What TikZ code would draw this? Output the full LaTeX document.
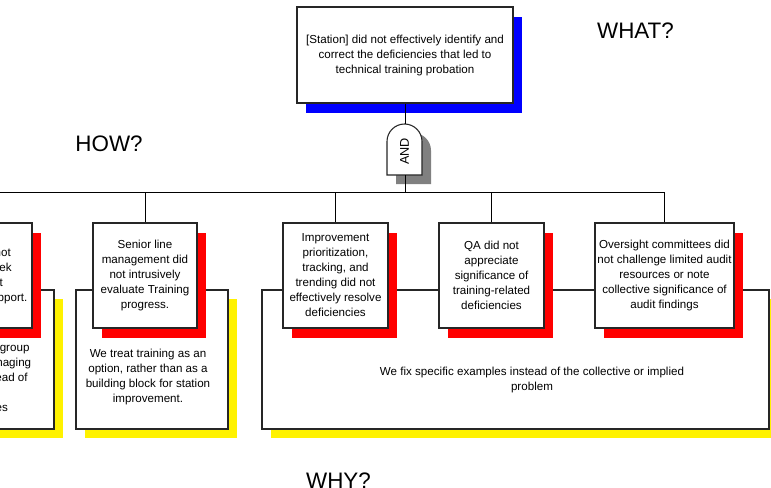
\documentclass[tikz,border=0pt]{standalone}
\usepackage{fontspec}
\setmainfont{Liberation Sans}
\usetikzlibrary{shadows}

\begin{document}
\begin{tikzpicture}[x=0.75pt,y=-0.75pt,
  txt/.style={font=\fontsize{8.7}{11.25}\selectfont, align=center, inner sep=0pt},
  howbox/.style={txt, draw=black!85, line width=0.8pt, fill=white, minimum height=78.75pt,
    drop shadow={shadow xshift=6.75pt, shadow yshift=-7.5pt, fill=red, opacity=1}},
  whybox/.style={draw=black!85, line width=0.8pt, fill=white, minimum height=104.25pt, inner sep=0pt,
    drop shadow={shadow xshift=6.75pt, shadow yshift=-6.75pt, fill=yellow, opacity=1}},
  bigword/.style={font=\fontsize{16.8}{18}\selectfont, inner sep=0pt}]
\useasboundingbox (0,0) rectangle (771,487);
\clip (0,0) rectangle (771,487);

% why level
\node[whybox, minimum width=114pt] (leftwhy) at (-22,359.5) {};
\node[whybox, minimum width=114pt] (seniorwhy) at (152,359.5) {};
\node[whybox, minimum width=380.25pt] (fixwhy) at (515.5,359.5) {};
\node[txt] (leftwhytxt) at (-22,377.5) {We work as a group\\ only when managing\\ incidents instead of\\ fixing\\ root causes};
\node[txt] (seniorwhytxt) at (148,377) {We treat training as an\\ option, rather than as a\\ building block for station\\ improvement.};
\node[txt] (fixwhytxt) at (532,380) {We fix specific examples instead of the collective or implied\\ problem};

% how level
\node[howbox, minimum width=78pt] (lefthow) at (-20,275.5) {Staff did not\\ help or seek\\ sufficient\\ additional support.};
\node[howbox, minimum width=78pt] (senior) at (145,275.5) {Senior line\\ management did\\ not intrusively\\ evaluate Training\\ progress.};
\node[howbox, minimum width=78.75pt] (improve) at (335.5,275.5) {Improvement\\ prioritization,\\ tracking, and\\ trending did not\\ effectively resolve\\ deficiencies};
\node[howbox, minimum width=78.75pt] (qa) at (491.5,275.5) {QA did not\\ appreciate\\ significance of\\ training-related\\ deficiencies};
\node[howbox, minimum width=104.25pt] (oversight) at (664.5,275.5) {Oversight committees did\\ not challenge limited audit\\ resources or note\\ collective significance of\\ audit findings};

% what
\node[txt, draw=black!85, line width=0.8pt, fill=white, minimum width=162pt, minimum height=72pt,
  drop shadow={shadow xshift=6.75pt, shadow yshift=-7.5pt, fill=blue, opacity=1}] (top) at (405,55)
  {[Station] did not effectively identify and\\ correct the deficiencies that led to\\ technical training probation};

% and gate
\fill[gray] (396,184) -- (396,150.5) arc[start angle=180, end angle=360, radius=17.5] -- (431,184) -- cycle;
\draw[black!85, line width=0.8pt, fill=white] (387,175) -- (387,141.5) arc[start angle=180, end angle=360, radius=17.5] -- (422,175) -- cycle;
\node[rotate=90, font=\fontsize{9.5}{11}\selectfont, inner sep=0pt] (gate) at (404.5,151.5) {AND};
\coordinate (gatetop) at (405,124);
\coordinate (gatebot) at (405,175);
\coordinate (bar) at (405,192);

\draw[line width=0.6pt] (top.south) -- (gatetop);
\draw[line width=0.6pt] (gatebot) -- (bar);
\draw[line width=0.6pt] (lefthow.north) |- (oversight.north |- bar) -- (oversight.north);
\foreach \n in {senior,improve,qa}
  \draw[line width=0.6pt] (\n.north) -- (\n.north |- bar);

\node[bigword] (what) at (635.5,31) {WHAT?};
\node[bigword] (how) at (109,144) {HOW?};
\node[bigword] (why) at (338.5,481) {WHY?};
\end{tikzpicture}
\end{document}
